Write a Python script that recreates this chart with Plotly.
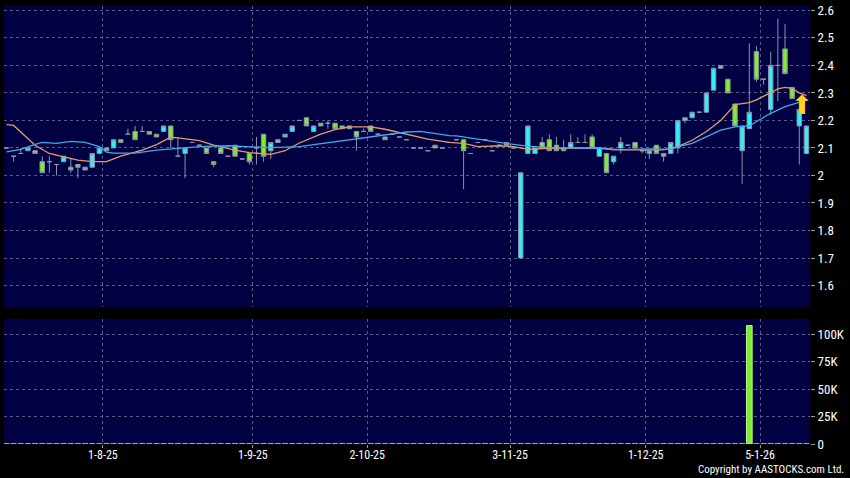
import plotly.graph_objects as go
from plotly.subplots import make_subplots

# one entry per trading session shown on the chart
opens = [2.10, 2.07, 2.08, 2.09, 2.09, 2.05, 2.05, 2.04, 2.05, 2.03,
         2.04, 2.02, 2.03, 2.08, 2.10, 2.10, 2.13, 2.15, 2.16, 2.16,
         2.16, 2.15, 2.16, 2.18, 2.07, 2.08, 2.12, 2.11, 2.10, 2.05,
         2.10, 2.07, 2.11, 2.06, 2.08, 2.10, 2.15, 2.09, 2.12, 2.14,
         2.16, 2.20, 2.21, 2.16, 2.19, 2.19, 2.19, 2.18, 2.18, 2.16,
         2.16, 2.18, 2.15, 2.14, 2.15, 2.14, 2.13, 2.10, 2.10, 2.09,
         2.11, 2.10, 2.12, 2.13, 2.13, 2.08, 2.12, 2.13, 2.09, 2.11,
         2.12, 2.10, 1.70, 2.08, 2.08, 2.12, 2.13, 2.11, 2.10, 2.10,
         2.12, 2.12, 2.14, 2.07, 2.08, 2.05, 2.10, 2.11, 2.12, 2.09,
         2.08, 2.11, 2.07, 2.08, 2.10, 2.20, 2.21, 2.23, 2.23, 2.31,
         2.39, 2.35, 2.26, 2.09, 2.17, 2.45, 2.35, 2.24, 2.40, 2.46,
         2.32, 2.18, 2.08]
highs = [2.10, 2.07, 2.10, 2.10, 2.09, 2.07, 2.07, 2.04, 2.07, 2.06,
         2.04, 2.03, 2.08, 2.10, 2.10, 2.13, 2.13, 2.17, 2.18, 2.18,
         2.16, 2.15, 2.18, 2.18, 2.14, 2.10, 2.12, 2.11, 2.10, 2.05,
         2.10, 2.07, 2.11, 2.06, 2.08, 2.14, 2.15, 2.12, 2.13, 2.15,
         2.18, 2.20, 2.21, 2.18, 2.19, 2.20, 2.19, 2.18, 2.18, 2.16,
         2.17, 2.18, 2.15, 2.14, 2.15, 2.14, 2.13, 2.10, 2.10, 2.09,
         2.11, 2.10, 2.12, 2.13, 2.13, 2.08, 2.12, 2.13, 2.09, 2.11,
         2.12, 2.10, 2.01, 2.18, 2.10, 2.14, 2.15, 2.14, 2.13, 2.15,
         2.14, 2.15, 2.15, 2.10, 2.08, 2.07, 2.14, 2.11, 2.12, 2.10,
         2.09, 2.11, 2.08, 2.12, 2.20, 2.21, 2.23, 2.23, 2.30, 2.39,
         2.40, 2.35, 2.26, 2.18, 2.48, 2.47, 2.35, 2.45, 2.57, 2.55,
         2.32, 2.24, 2.18]
lows = [2.10, 2.05, 2.08, 2.09, 2.08, 2.01, 2.01, 2.00, 2.05, 2.01,
        1.99, 2.02, 2.03, 2.08, 2.09, 2.10, 2.12, 2.15, 2.13, 2.16,
        2.15, 2.14, 2.16, 2.10, 2.07, 1.99, 2.12, 2.11, 2.08, 2.03,
        2.08, 2.07, 2.07, 2.06, 2.04, 2.04, 2.05, 2.06, 2.12, 2.14,
        2.16, 2.20, 2.18, 2.16, 2.18, 2.17, 2.17, 2.17, 2.17, 2.09,
        2.16, 2.16, 2.15, 2.13, 2.15, 2.14, 2.13, 2.10, 2.10, 2.09,
        2.10, 2.10, 2.12, 2.13, 1.95, 2.08, 2.12, 2.13, 2.09, 2.11,
        2.11, 2.10, 1.70, 2.08, 2.08, 2.10, 2.09, 2.09, 2.09, 2.10,
        2.12, 2.12, 2.10, 2.07, 2.01, 2.04, 2.08, 2.11, 2.10, 2.08,
        2.06, 2.08, 2.05, 2.08, 2.08, 2.19, 2.21, 2.23, 2.23, 2.31,
        2.39, 2.30, 2.18, 1.97, 2.17, 2.34, 2.33, 2.22, 2.27, 2.37,
        2.28, 2.04, 2.08]
closes = [2.10, 2.07, 2.08, 2.10, 2.08, 2.01, 2.05, 2.04, 2.07, 2.02,
          2.03, 2.03, 2.08, 2.10, 2.09, 2.13, 2.12, 2.15, 2.13, 2.16,
          2.15, 2.14, 2.18, 2.13, 2.07, 2.10, 2.12, 2.11, 2.08, 2.04,
          2.08, 2.07, 2.07, 2.06, 2.05, 2.10, 2.07, 2.12, 2.13, 2.15,
          2.18, 2.20, 2.18, 2.18, 2.18, 2.19, 2.17, 2.17, 2.17, 2.14,
          2.16, 2.16, 2.15, 2.13, 2.15, 2.14, 2.13, 2.10, 2.10, 2.09,
          2.10, 2.10, 2.12, 2.13, 2.09, 2.08, 2.12, 2.13, 2.09, 2.11,
          2.11, 2.10, 2.01, 2.18, 2.10, 2.10, 2.09, 2.09, 2.09, 2.12,
          2.12, 2.12, 2.10, 2.10, 2.01, 2.07, 2.12, 2.11, 2.10, 2.09,
          2.09, 2.08, 2.08, 2.12, 2.20, 2.21, 2.23, 2.23, 2.30, 2.39,
          2.40, 2.30, 2.18, 2.18, 2.23, 2.35, 2.35, 2.40, 2.40, 2.37,
          2.28, 2.24, 2.18]
volume = [0, 0, 0, 0, 0, 0, 0, 0, 0, 0, 0, 0, 0, 0, 0, 0, 0, 0, 0, 0,
          0, 0, 0, 0, 0, 0, 0, 0, 0, 0, 0, 0, 0, 0, 0, 0, 0, 0, 0, 0,
          0, 0, 0, 0, 0, 0, 0, 0, 0, 0, 0, 0, 0, 0, 0, 0, 0, 0, 0, 0,
          0, 0, 0, 0, 0, 0, 0, 0, 0, 0, 0, 0, 0, 0, 0, 0, 0, 0, 0, 0,
          0, 0, 0, 0, 0, 0, 0, 0, 0, 0, 0, 0, 0, 0, 0, 0, 0, 0, 0, 0,
          0, 0, 0, 0, 108000, 0, 0, 0, 0, 0, 0, 0, 0]
session = list(range(len(closes)))

# moving averages at a subset of sessions
ma_short_at = [0, 1, 4, 6, 8, 10, 12, 14, 16, 19, 21, 23, 24, 27, 29, 32, 34, 37,
               39, 41, 44, 46, 48, 51, 53, 56, 59, 62, 64, 66, 69, 71, 73, 76, 79,
               83, 86, 90, 92, 94, 96, 98, 100, 102, 104, 105, 107, 108, 109, 110,
               111, 112]
ma_short = [2.185, 2.182, 2.11, 2.08, 2.068, 2.056, 2.05, 2.05, 2.07, 2.092, 2.112,
            2.139, 2.137, 2.127, 2.11, 2.092, 2.083, 2.077, 2.09, 2.118, 2.15, 2.167,
            2.177, 2.177, 2.168, 2.15, 2.132, 2.12, 2.117, 2.105, 2.108, 2.105, 2.095,
            2.099, 2.10, 2.10, 2.093, 2.093, 2.093, 2.105, 2.128, 2.16, 2.20, 2.258,
            2.265, 2.275, 2.30, 2.315, 2.32, 2.317, 2.30, 2.29]
ma_long_at = [0, 2, 4, 5, 7, 9, 11, 13, 14, 15, 18, 21, 25, 27, 31, 34, 37, 41, 45,
              49, 53, 56, 58, 62, 63, 66, 69, 71, 73, 76, 83, 85, 90, 93, 94, 96, 98,
              100, 102, 104, 105, 107, 109, 111, 112]
ma_long = [2.086, 2.095, 2.113, 2.12, 2.117, 2.124, 2.12, 2.105, 2.085, 2.081, 2.081,
           2.092, 2.10, 2.105, 2.108, 2.105, 2.101, 2.105, 2.119, 2.132, 2.148, 2.158,
           2.16, 2.145, 2.144, 2.131, 2.12, 2.113, 2.107, 2.101, 2.099, 2.093, 2.097,
           2.095, 2.105, 2.117, 2.14, 2.165, 2.177, 2.18, 2.196, 2.226, 2.25, 2.265,
           2.274]

month_ticks = [13.5, 34.5, 50.5, 70.5, 89.5, 105.5]
month_labels = ["1-8-25", "1-9-25", "2-10-25", "3-11-25", "1-12-25", "5-1-26"]
vol_ticks = [0, 25000, 50000, 75000, 100000]
vol_labels = ["0", "25K", "50K", "75K", "100K"]

# marker for the latest signal
signal_session = 111.4
signal_price = 2.258

BG = "#000042"
GRID = "#5a5a86"
EDGE = "#8a94aa"
CYAN = "#33eef6"
LIME = "#80ec2c"
FONT = "Liberation Sans Narrow, Roboto Condensed, Liberation Sans, sans-serif"

fig = make_subplots(rows=2, cols=1, shared_xaxes=True)

fig.add_trace(go.Candlestick(
    x=session, open=opens, high=highs, low=lows, close=closes,
    increasing=dict(line=dict(color=EDGE, width=1), fillcolor=CYAN),
    decreasing=dict(line=dict(color=EDGE, width=1), fillcolor=LIME),
    whiskerwidth=0, showlegend=False, hoverinfo="x+y"
), row=1, col=1)

fig.add_trace(go.Scatter(
    x=ma_short_at, y=ma_short, mode="lines",
    line=dict(color="#e59a6c", width=1.3), showlegend=False
), row=1, col=1)

fig.add_trace(go.Scatter(
    x=ma_long_at, y=ma_long, mode="lines",
    line=dict(color="#3fa9ec", width=1.3), showlegend=False
), row=1, col=1)

fig.add_trace(go.Bar(
    x=session, y=volume, width=0.8,
    marker=dict(color=LIME, line=dict(color="#b8f890", width=1)),
    showlegend=False
), row=2, col=1)

fig.add_annotation(
    x=signal_session, y=signal_price, xref="x", yref="y",
    text="\u2b06", showarrow=False,
    font=dict(family="DejaVu Sans", size=26, color="#ffd21e")
)

fig.add_annotation(
    text="Copyright by AASTOCKS.com Ltd.",
    x=1.0447, y=-0.0776, xref="paper", yref="paper",
    xanchor="right", yanchor="bottom", showarrow=False,
    font=dict(family=FONT, size=11, color="white")
)

axis_common = dict(
    range=[-0.35, 112.5], tickvals=month_ticks, showgrid=True,
    gridcolor=GRID, griddash="3px,3px", gridwidth=1, zeroline=False,
    showline=False
)
fig.update_xaxes(**axis_common)
fig.update_xaxes(showticklabels=False, ticks="", rangeslider=dict(visible=False), row=1, col=1)
fig.update_xaxes(
    ticktext=month_labels, ticks="outside", ticklen=3, tickcolor="#9a9a9a",
    ticklabelstandoff=-3,
    tickfont=dict(family=FONT, size=12, color="white"), row=2, col=1
)

fig.update_layout(
    width=850, height=478,
    paper_bgcolor="black", plot_bgcolor=BG,
    margin=dict(l=4, r=40, t=6, b=34),
    boxgap=0.12,
    showlegend=False,
    yaxis=dict(
        domain=[0.3128, 1.0], side="right", range=[1.522, 2.616],
        tick0=1.6, dtick=0.1, showgrid=True, gridcolor=GRID, griddash="3px,3px",
        zeroline=False, ticks="outside", ticklen=4, tickcolor="#9a9a9a",
        tickfont=dict(family=FONT, size=13, color="white")
    ),
    yaxis2=dict(
        domain=[0.0, 0.2854], side="right", range=[0, 114000],
        tickvals=vol_ticks, ticktext=vol_labels, showgrid=True, gridcolor=GRID,
        griddash="3px,3px", zeroline=False, ticks="outside", ticklen=4,
        tickcolor="#9a9a9a", tickfont=dict(family=FONT, size=13, color="white")
    ),
)

# the page's default body margin would shift the figure
fig.write_html("out.html", config={"displayModeBar": False},
               post_script="document.body.style.margin='0';")
